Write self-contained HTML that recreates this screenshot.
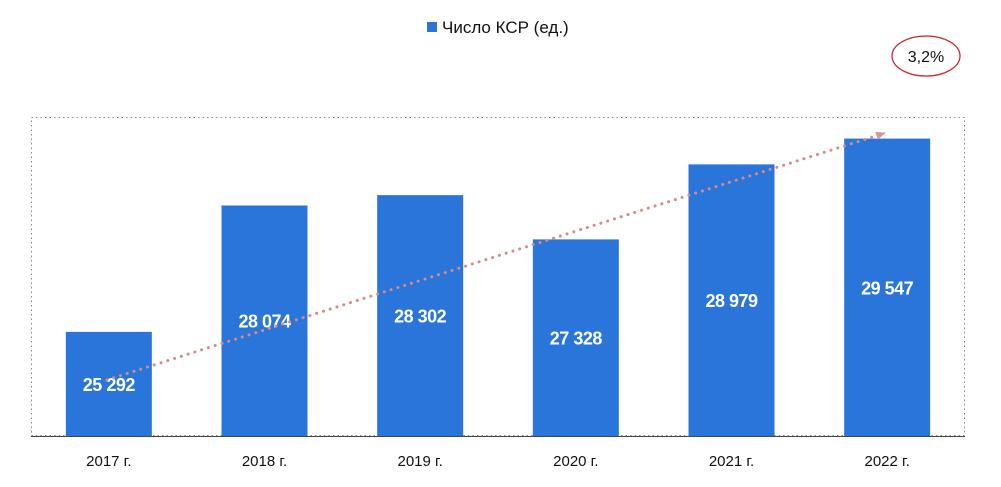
<!DOCTYPE html>
<html><head><meta charset="utf-8"><style>
html,body{margin:0;padding:0;background:#fff;width:1001px;height:487px;overflow:hidden;font-family:"Liberation Sans",sans-serif;}
</style></head><body>
<svg id="chart" width="1001" height="487" xmlns="http://www.w3.org/2000/svg">
<defs><marker id="ah" markerWidth="10" markerHeight="10" refX="7" refY="4" orient="auto" markerUnits="userSpaceOnUse"><path d="M0,0 L10,4 L0,8 Z" fill="#d99592"/></marker></defs>
<rect x="31.5" y="117.5" width="933" height="318" fill="none" stroke="#888" stroke-dasharray="1.5 3"/>
<g id="bars"></g>
<line x1="31" y1="436.5" x2="965" y2="436.5" stroke="#444" stroke-width="1"/>
<g id="xlabels"></g>
<line id="trend" stroke="#d98a86" stroke-width="3" stroke-dasharray="0.1 7" stroke-linecap="round" marker-end="url(#ah)"/>
<rect x="427" y="22" width="10" height="10" fill="#2a75d9"/>
<text x="442" y="33" font-size="17" fill="#111">Число КСР (ед.)</text>
<ellipse cx="926" cy="56" rx="34" ry="20" fill="none" stroke="#cc2a2a" stroke-width="1.3"/>
<text x="926" y="62" font-size="16" text-anchor="middle" fill="#111">3,2%</text>
</svg>
<script>
const categories=["2017 г.","2018 г.","2019 г.","2020 г.","2021 г.","2022 г."];
const values=[25292,28074,28302,27328,28979,29547];
const valueLabels=["25 292","28 074","28 302","27 328","28 979","29 547"];
const yMin=23000,yMax=30000;
const NS="http://www.w3.org/2000/svg";
const plotLeft=31,plotRight=965,plotTop=118,plotBottom=436;
const bw=(plotRight-plotLeft)/categories.length;
const yScale=v=>plotBottom-(v-yMin)/(yMax-yMin)*(plotBottom-plotTop);
const xc=i=>plotLeft+bw*(i+0.5);
const gb=document.getElementById('bars'),gl=document.getElementById('xlabels');
values.forEach((v,i)=>{
 const r=document.createElementNS(NS,'rect');
 r.setAttribute('x',xc(i)-43);r.setAttribute('width',86);
 r.setAttribute('y',yScale(v));r.setAttribute('height',plotBottom-yScale(v));r.setAttribute('fill','#2a75d9');
 
 
 gb.appendChild(r);
 const t=document.createElementNS(NS,'text');
 t.setAttribute('x',xc(i));t.setAttribute('y',(yScale(v)+plotBottom)/2+7);
 t.setAttribute('text-anchor','middle');t.setAttribute('fill','#fff');t.setAttribute('font-size','18');t.setAttribute('font-weight','bold');
 t.setAttribute('letter-spacing','-0.5');
 t.textContent=valueLabels[i];
 
 
 gb.appendChild(t);
 const c=document.createElementNS(NS,'text');
 c.setAttribute('x',xc(i));c.setAttribute('y',466);
 c.setAttribute('text-anchor','middle');c.setAttribute('fill','#111');c.setAttribute('font-size','15');
 c.textContent=categories[i];
 
 
 gl.appendChild(c);
});
const tr=document.getElementById('trend');
tr.setAttribute('x1',xc(0)-2);tr.setAttribute('y1',(yScale(values[0])+plotBottom)/2-4);
tr.setAttribute('x2',xc(5)-4);tr.setAttribute('y2',yScale(values[5])-5);
</script>
</body></html>
